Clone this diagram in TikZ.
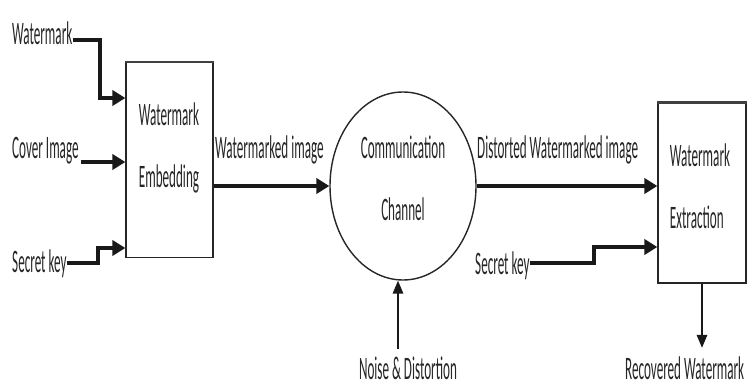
\documentclass[tikz,border=0pt]{standalone}
\usepackage{fontspec}
\setmainfont{Carlito}[FakeStretch=0.4]
\usetikzlibrary{arrows.meta,shapes.geometric}

\begin{document}
\begin{tikzpicture}[x=0.03cm,y=-0.03cm,
    txt/.style={inner sep=0pt,font=\fontsize{28}{53}\selectfont,text=black!85},
    inbox/.style={txt,align=left},
    blk/.style={draw=black!85,line width=1.2pt},
    flow/.style={line width=2.6pt,black!90,-{Triangle[length=11pt,width=13pt]}},
    thinflow/.style={line width=1.1pt,black!90,-{Triangle[length=11pt,width=9pt]}}]
    \useasboundingbox (0,0) rectangle (748,389);
    % inputs
    \node[txt,anchor=base west] (wm) at (12,44){Watermark};
    \node[txt,anchor=base west] (cover) at (12,158){Cover Image};
    \node[txt,anchor=base west] (keyA) at (12,272){Secret key};
    % blocks
    \node[blk,minimum width=2.61cm,minimum height=5.85cm] (embed) at (169.5,160){};
    \node[inbox] (embedtxt) at (169,148){Watermark\\Embedding};
    \node[blk,ellipse,minimum width=4.38cm,minimum height=5.64cm] (chan) at (403,186){};
    \node[inbox,align=center] (chantxt) at (403,178){Communication\\Channel};
    \node[blk,minimum width=2.64cm,minimum height=5.4cm] (extr) at (702,193){};
    \node[inbox] (extrtxt) at (700,186){Watermark\\Extraction};
    \draw[line width=2.2pt,black!75] (embed.north west) -- (embed.north east);
    \draw[line width=2.2pt,black!75] (extr.north west) -- (extr.north east);
    % labels
    \node[txt,anchor=base west] (lblA) at (215,158){Watermarked image};
    \node[txt,anchor=base west] (lblB) at (477,158){Distorted Watermarked image};
    \node[txt,anchor=base west] (keyB) at (475,274){Secret key};
    \node[txt,anchor=base] (noise) at (408,379){Noise \& Distortion};
    \node[txt,anchor=base west] (recov) at (625,379){Recovered Watermark};
    % connectors
    \coordinate (wmbend) at (100,98);
    \coordinate (kAbend) at (98,248);
    \coordinate (kBbend) at (594,247);
    \draw[flow] (wm.base east) ++(0,-4) -| (wmbend) -- (wmbend -| embed.west);
    \draw[flow] (cover.base east) ++(2,4) coordinate (c0) -- (c0 -| embed.west);
    \draw[flow] (keyA.base east) ++(0,-9) -| (kAbend) -- (kAbend -| embed.west);
    \draw[flow] (chan.west -| embed.east) -- (chan.west);
    \draw[flow] (chan.east) -- (chan.east -| extr.west);
    \draw[flow] (keyB.base east) ++(0,-11) -| (kBbend) -- (kBbend -| extr.west);
    \draw[thinflow] (noise.north) ++(-10,-7) coordinate (n0) -- (n0 |- chan.south);
    \draw[thinflow] (extr.south) -- ([yshift=7pt]extr.south |- recov.north);
\end{tikzpicture}
\end{document}
